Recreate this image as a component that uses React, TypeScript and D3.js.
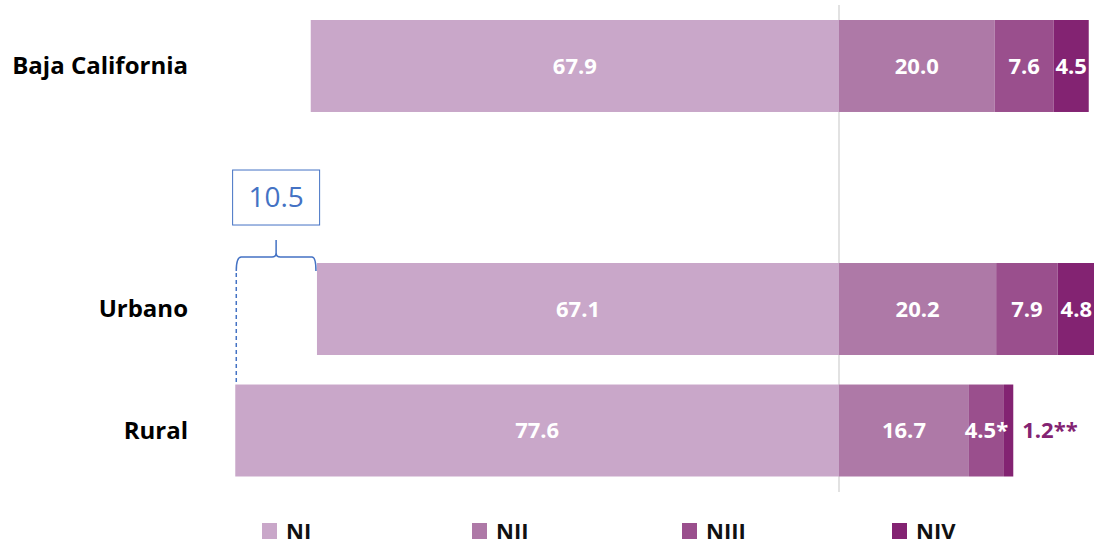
import { scaleBand, scaleLinear, scalePoint } from "d3";

const categories = ["Baja California", "", "Urbano", "Rural"];
const rows = ["Baja California", "Urbano", "Rural"];
const series = ["NI", "NII", "NIII", "NIV"];
const colors = ["#c9a7c9", "#ae79a7", "#9a4f8d", "#832372"];

const ni = [67.9, 67.1, 77.6];
const nii = [20.0, 20.2, 16.7];
const niii = [7.6, 7.9, 4.5];
const niv = [4.5, 4.8, 1.2];

const labelNI = ["67.9", "67.1", "77.6"];
const labelNII = ["20.0", "20.2", "16.7"];
const labelNIII = ["7.6", "7.9", "4.5*"];
const labelNIV = ["4.5", "4.8", "1.2**"];

const gapLabel = "10.5";

const W = 1094;
const H = 545;
const CENTER = 839;
const PX_PER_UNIT = 7.78;

const FONT = "'Open Sans', 'DejaVu Sans', sans-serif";

export default function App() {
  const x = scaleLinear()
    .domain([-100, 0])
    .range([CENTER - 100 * PX_PER_UNIT, CENTER]);

  const y = scaleBand<string>()
    .domain(categories)
    .range([20, 476.5])
    .paddingInner(0.243)
    .paddingOuter(0);

  const bw = y.bandwidth();

  const legendX = scalePoint<string>().domain(series).range([262, 892]);

  const segs = rows.flatMap((r, i) => {
    const rightVals = [nii[i], niii[i], niv[i]];
    const rightLabels = [labelNII[i], labelNIII[i], labelNIV[i]];
    const out = [
      {
        row: r,
        key: "NI",
        x0: x(-ni[i]),
        x1: x(0),
        color: colors[0],
        label: labelNI[i],
        value: ni[i],
      },
    ];
    let acc = 0;
    rightVals.forEach((v, j) => {
      out.push({
        row: r,
        key: series[j + 1],
        x0: x(acc),
        x1: x(acc + v),
        color: colors[j + 1],
        label: rightLabels[j],
        value: v,
      });
      acc += v;
    });
    return out;
  });

  // annotation: gap between rural and urban NI
  const xa = x(-ni[2]);
  const xb = x(-ni[1]);
  const xm = (xa + xb) / 2;
  const yU = y("Urbano") ?? 0;
  const yR = y("Rural") ?? 0;
  const by = yU - 6;

  return (
    <svg
      width={W}
      height={H}
      style={{ position: "absolute", left: 0, top: 0, background: "#fff" }}
      fontFamily={FONT}
    >
      {/* center line */}
      <line
        x1={x(0)}
        x2={x(0)}
        y1={5}
        y2={492}
        stroke="#d9d9d9"
        strokeWidth={1.5}
      />

      {segs.map((s, i) => (
        <rect
          key={`r${i}`}
          x={s.x0}
          y={y(s.row)}
          width={s.x1 - s.x0}
          height={bw}
          fill={s.color}
        />
      ))}

      {segs.map((s, i) => {
        const cy = (y(s.row) ?? 0) + bw / 2;
        const outside = s.value < 2;
        return (
          <text
            key={`t${i}`}
            x={outside ? s.x1 + 9 : (s.x0 + s.x1) / 2}
            y={cy}
            dy="0.35em"
            textAnchor={outside ? "start" : "middle"}
            fill={outside ? colors[3] : "#fff"}
            fontSize={22}
            fontWeight={700}
          >
            {s.label}
          </text>
        );
      })}

      {rows.map((r) => (
        <text
          key={r}
          x={188}
          y={(y(r) ?? 0) + bw / 2}
          dy="0.35em"
          textAnchor="end"
          fill="#000"
          fontSize={24}
          fontWeight={700}
        >
          {r}
        </text>
      ))}

      {/* 10.5 annotation */}
      <rect
        x={xm - 43.5}
        y={yU - 93}
        width={87}
        height={55}
        fill="#fff"
        stroke="#4472c4"
        strokeWidth={1}
      />
      <text
        x={xm}
        y={yU - 65.5}
        dy="0.35em"
        textAnchor="middle"
        fill="#4472c4"
        fontSize={28}
      >
        {gapLabel}
      </text>
      <path
        d={`M${xa + 1},${yU + 8} Q${xa + 1},${by} ${xa + 6},${by} L${xm - 4},${by} Q${xm},${by} ${xm},${by - 4} L${xm},${yU - 23} M${xm},${by - 4} Q${xm},${by} ${xm + 4},${by} L${xb - 5},${by} Q${xb - 1},${by} ${xb - 1},${yU + 8}`}
        fill="none"
        stroke="#4472c4"
        strokeWidth={1.5}
      />
      <line
        x1={xa + 1}
        x2={xa + 1}
        y1={yU + 10}
        y2={yR}
        stroke="#4472c4"
        strokeWidth={1.5}
        strokeDasharray="4,3"
      />

      {/* legend */}
      {series.map((s, i) => (
        <g key={s} transform={`translate(${legendX(s)},0)`}>
          <rect x={0} y={523} width={15} height={16} fill={colors[i]} />
          <text
            x={24}
            y={531}
            dy="0.35em"
            fill="#111"
            fontSize={22}
            fontWeight={700}
          >
            {s}
          </text>
        </g>
      ))}
    </svg>
  );
}
